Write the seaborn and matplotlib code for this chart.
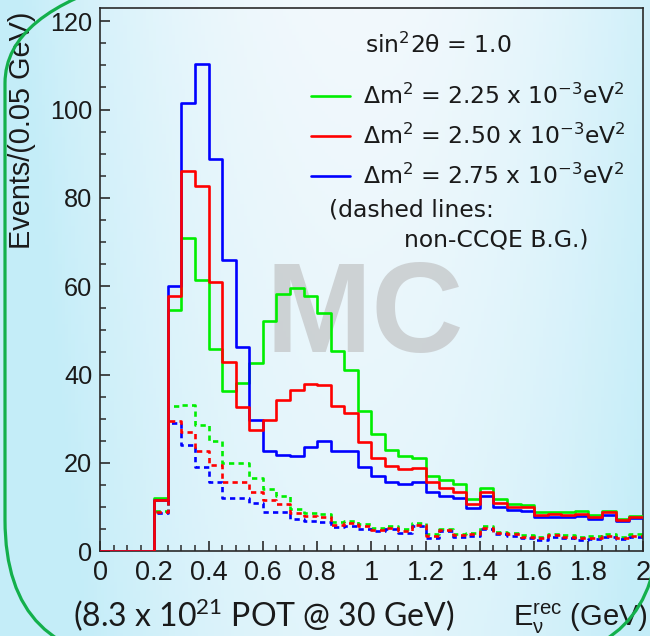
import numpy as np
import pandas as pd
import matplotlib
matplotlib.use("Agg")
import matplotlib.pyplot as plt
from matplotlib.patches import FancyBboxPatch
from matplotlib.lines import Line2D
from matplotlib.transforms import Bbox
from matplotlib.ticker import MultipleLocator, FixedLocator, FixedFormatter
import seaborn as sns

# ---- data: events per 0.05 GeV bin, 0.00 - 2.00 GeV (40 bins) ----
bin_edges = [round(0.05 * k, 2) for k in range(41)]

signal_225 = [0, 0, 0, 0, 12.0, 54.6, 71.0, 61.4, 45.7, 36.3,
              38.0, 42.7, 52.1, 58.2, 59.5, 57.8, 53.9, 45.4, 41.0, 31.8,
              26.5, 22.9, 21.5, 21.1, 17.1, 16.1, 15.2, 11.8, 14.4, 11.8,
              10.8, 10.4, 8.9, 8.9, 8.9, 9.0, 8.3, 9.2, 7.4, 8.0]
signal_250 = [0, 0, 0, 0, 11.7, 57.8, 86.1, 82.7, 60.9, 42.9,
              32.7, 27.4, 29.7, 34.3, 36.5, 37.8, 37.7, 32.8, 31.2, 24.8,
              21.2, 19.4, 18.6, 18.8, 15.6, 14.4, 13.3, 10.8, 13.5, 11.0,
              10.1, 9.9, 8.3, 8.4, 8.3, 8.4, 7.8, 8.8, 7.0, 7.7]
signal_275 = [0, 0, 0, 0, 11.7, 60.1, 101.4, 110.4, 88.9, 65.9,
              46.3, 29.7, 22.7, 21.7, 21.6, 23.5, 25.0, 22.6, 22.7, 19.1,
              17.0, 15.6, 15.3, 15.6, 13.3, 12.6, 12.0, 9.7, 12.4, 10.0,
              9.3, 9.2, 7.8, 7.8, 7.8, 7.9, 7.4, 8.3, 6.9, 7.6]

bg_225 = [0, 0, 0, 0, 9.0, 32.9, 33.0, 28.6, 24.9, 20.0,
          20.0, 16.6, 14.1, 12.6, 9.6, 8.6, 8.4, 6.5, 6.8, 6.1,
          5.3, 5.6, 5.0, 6.4, 3.8, 5.1, 3.9, 4.1, 5.6, 4.4,
          4.1, 3.6, 3.2, 3.9, 3.6, 3.2, 3.4, 3.8, 3.3, 3.8]
bg_250 = [0, 0, 0, 0, 8.8, 29.5, 27.0, 22.7, 19.5, 15.6,
          15.6, 13.5, 11.7, 10.8, 8.6, 7.9, 7.7, 5.9, 6.3, 5.6,
          4.9, 5.3, 4.6, 6.0, 3.5, 4.8, 3.6, 3.8, 5.3, 4.1,
          3.8, 3.3, 2.9, 3.6, 3.3, 2.9, 3.1, 3.5, 3.0, 3.5]
bg_275 = [0, 0, 0, 0, 8.6, 29.0, 24.1, 19.1, 15.6, 12.0,
          12.0, 10.9, 8.9, 8.9, 7.2, 6.9, 6.7, 5.4, 5.8, 5.0,
          4.5, 5.0, 4.2, 5.6, 3.1, 4.5, 3.2, 3.5, 5.0, 3.8,
          3.5, 3.0, 2.6, 3.3, 3.0, 2.6, 2.8, 3.2, 2.7, 3.2]

series_labels = [r"$\Delta$m$^2$ = 2.25 x 10$^{-3}$eV$^2$",
                 r"$\Delta$m$^2$ = 2.50 x 10$^{-3}$eV$^2$",
                 r"$\Delta$m$^2$ = 2.75 x 10$^{-3}$eV$^2$"]
series_colors = ["#00ee00", "#ff0000", "#0000ff"]

x_ticks = [0, 0.2, 0.4, 0.6, 0.8, 1.0, 1.2, 1.4, 1.6, 1.8, 2.0]
x_tick_labels = ["0", "0.2", "0.4", "0.6", "0.8", "1", "1.2", "1.4", "1.6", "1.8", "2"]
y_ticks = [0, 20, 40, 60, 80, 100, 120]
y_tick_labels = ["0", "20", "40", "60", "80", "100", "120"]

bin_centers = [(a + b) / 2 for a, b in zip(bin_edges[:-1], bin_edges[1:])]

# ---- style ----
sns.set_theme(style="ticks")
plt.rcParams["font.family"] = ["Liberation Sans", "DejaVu Sans"]
plt.rcParams["mathtext.default"] = "regular"
INK = "#1a1a1a"
NOTE_FONT = "DejaVu Sans"
NOTE_SIZE = 16.9

W, H = 650, 636
fig = plt.figure(figsize=(W / 100, H / 100), dpi=100)

# slide background: soft white-to-cyan wash
gx, gy = np.meshgrid(np.linspace(0, 1, 200), np.linspace(0, 1, 200))
w = np.clip(((gx - 0.55) / 0.52) ** 2 + 0.35 * gy, 0, 1)[..., None]
c_white = np.array([0.95, 0.975, 0.99])
c_cyan = np.array([0.77, 0.93, 0.975])
grad = c_white * (1 - w) + c_cyan * w
bg = fig.add_axes([0, 0, 1, 1], zorder=-10)
bg.imshow(grad, aspect="auto", extent=[0, 1, 0, 1], origin="upper")
bg.axis("off")

# rounded slide frame in green (left side and lower-right corner only)
for clip in (Bbox([[0, 0], [400, H]]), Bbox([[400, 0], [W, 190]])):
    frame = FancyBboxPatch((0.05, -0.24), 6.54, 7.17,
                           boxstyle="round,pad=0,rounding_size=1.4",
                           transform=fig.dpi_scale_trans, fill=False,
                           edgecolor="#13b04c", linewidth=2.3, zorder=5)
    fig.add_artist(frame)
    frame.set_clip_box(clip)

ax_l, ax_r = 100 / W, 642.7 / W
ax_b, ax_t = (H - 551.2) / H, (H - 8) / H
ax = fig.add_axes([ax_l, ax_b, ax_r - ax_l, ax_t - ax_b])
ax.set_facecolor("none")

# watermark
ax.text(0.487, 0.428, "MC", transform=ax.transAxes, ha="center", va="center",
        fontsize=92, fontweight="bold", color="#c6c9cb", alpha=0.8, zorder=0.5)

# dashed: non-CCQE background; solid: total spectrum
draw_order = [0, 2, 1]
bg_series = [bg_225, bg_250, bg_275]
sig_series = [signal_225, signal_250, signal_275]
for i in draw_order:
    d = pd.DataFrame({"E": bin_centers, "events": bg_series[i]})
    sns.histplot(data=d, x="E", weights="events", bins=bin_edges, element="step",
                 fill=False, color=series_colors[i], linewidth=1.9,
                 linestyle=(0, (2.0, 1.6)), ax=ax, zorder=2)
for i in draw_order:
    d = pd.DataFrame({"E": bin_centers, "events": sig_series[i]})
    sns.histplot(data=d, x="E", weights="events", bins=bin_edges, element="step",
                 fill=False, color=series_colors[i], linewidth=1.9, ax=ax, zorder=3)

ax.set_xlim(0, 2)
ax.set_ylim(0, 123)

ax.xaxis.set_major_locator(FixedLocator(x_ticks))
ax.xaxis.set_major_formatter(FixedFormatter(x_tick_labels))
ax.xaxis.set_minor_locator(MultipleLocator(0.05))
ax.yaxis.set_major_locator(FixedLocator(y_ticks))
ax.yaxis.set_major_formatter(FixedFormatter(y_tick_labels))
ax.yaxis.set_minor_locator(MultipleLocator(5))

ax.tick_params(axis="both", which="both", direction="in", colors="#2a2a2a",
               labelcolor=INK, top=False, right=False)
ax.tick_params(axis="both", which="major", length=7.5, width=1.2)
ax.tick_params(axis="both", which="minor", length=4.5, width=1.1)
ax.tick_params(axis="x", which="major", pad=6.5, labelsize=19.5)
ax.tick_params(axis="y", which="major", pad=5.5, labelsize=18.2)
for sp in ax.spines.values():
    sp.set_visible(True)
    sp.set_color("#2a2a2a")
    sp.set_linewidth(1.2)

ax.set_ylabel("Events/(0.05 GeV)", fontsize=20.8, loc="top", color=INK)
ax.yaxis.set_label_coords(-0.118, 0.993)
ax.set_xlabel(r"E$_{ν}^{rec}$ (GeV)", fontsize=21, loc="right", color=INK)
ax.xaxis.set_label_coords(1.0098, -0.092)

# legend and annotations
ax.text(0.623, 0.932, r"sin$^2$2θ = 1.0", transform=ax.transAxes,
        ha="center", va="center", fontsize=NOTE_SIZE, color=INK, family=NOTE_FONT)
handles = [Line2D([], [], color=c, linewidth=1.9) for c in series_colors]
leg = ax.legend(handles, series_labels, loc="upper left",
                bbox_to_anchor=(0.388, 0.86), frameon=False,
                prop={"family": NOTE_FONT, "size": NOTE_SIZE},
                handlelength=1.67, handletextpad=0.55, labelspacing=0.62,
                borderpad=0, borderaxespad=0)
for t in leg.get_texts():
    t.set_color(INK)
ax.text(0.422, 0.628, "(dashed lines:", transform=ax.transAxes,
        ha="left", va="center", fontsize=NOTE_SIZE, color=INK, family=NOTE_FONT)
ax.text(0.560, 0.573, "non-CCQE B.G.)", transform=ax.transAxes,
        ha="left", va="center", fontsize=NOTE_SIZE, color=INK, family=NOTE_FONT)

fig.text(73 / W, (H - 615) / H, r"(8.3 x 10$^{21}$ POT @ 30 GeV)",
         ha="left", va="center", fontsize=23, color=INK, family="Lato")

fig.savefig("out.png", dpi=100)
